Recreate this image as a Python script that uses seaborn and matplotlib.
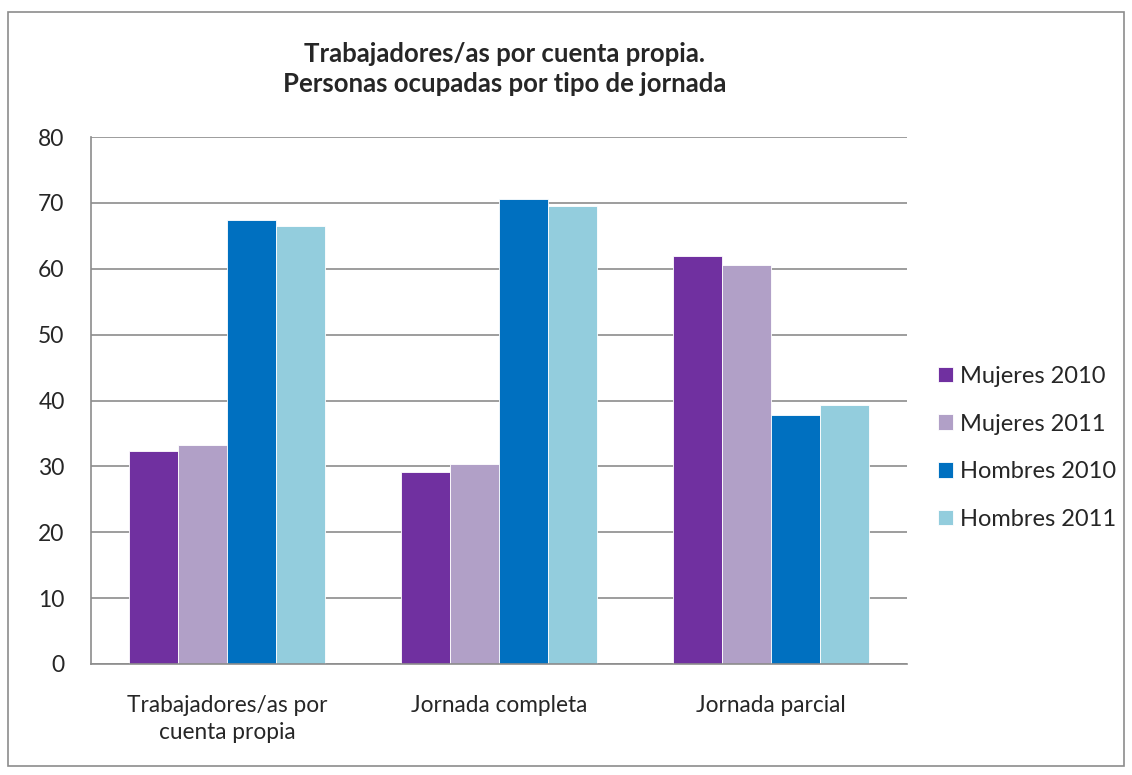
import pandas as pd
import matplotlib.pyplot as plt
import seaborn as sns
from matplotlib.patches import Rectangle

categories = ['Trabajadores/as por\ncuenta propia', 'Jornada completa', 'Jornada parcial']
series = ['Mujeres 2010', 'Mujeres 2011', 'Hombres 2010', 'Hombres 2011']
mujeres_2010 = [32.4, 29.2, 62.0]
mujeres_2011 = [33.3, 30.3, 60.5]
hombres_2010 = [67.4, 70.6, 37.8]
hombres_2011 = [66.5, 69.5, 39.3]
colors = ['#7030A0', '#B1A0C7', '#0070C0', '#93CDDD']

rows = []
for name, vals in zip(series, [mujeres_2010, mujeres_2011, hombres_2010, hombres_2011]):
    for cat, v in zip(categories, vals):
        rows.append({'Categoria': cat, 'Serie': name, 'Valor': v})
df = pd.DataFrame(rows)

sns.set_style('white')
plt.rcParams['font.family'] = ['Lato', 'DejaVu Sans']

fig = plt.figure(figsize=(11.32, 7.75), dpi=100)
ax = fig.add_axes([91 / 1132, 1 - 664 / 775, 816 / 1132, 527 / 775])

sns.barplot(data=df, x='Categoria', y='Valor', hue='Serie', order=categories,
            hue_order=series, palette=colors, width=0.72, saturation=1,
            edgecolor='white', linewidth=0.6, ax=ax)

ax.set_ylim(0, 80)
ax.set_yticks(range(0, 81, 10))
ax.yaxis.grid(True, color='#8c8c8c', linewidth=1.2)
ax.set_axisbelow(True)
ax.set_xlabel('')
ax.set_ylabel('')
for s in ['top', 'right']:
    ax.spines[s].set_visible(False)
for s in ['left', 'bottom']:
    ax.spines[s].set_color('#8c8c8c')
    ax.spines[s].set_linewidth(1.2)
ax.tick_params(axis='y', labelsize=16.5, pad=19, length=0)
ax.tick_params(axis='x', labelsize=16.3, pad=22, length=0)
for lbl in ax.get_xticklabels():
    lbl.set_linespacing(1.35)

ax.legend(loc='center left', bbox_to_anchor=(1.038, 0.41), frameon=False,
          fontsize=17, handlelength=0.64, handleheight=0.64, handletextpad=0.3,
          labelspacing=1.13, borderaxespad=0, borderpad=0)

fig.suptitle('Trabajadores/as por cuenta propia.\nPersonas ocupadas por tipo de jornada',
             fontsize=18.5, fontweight='bold', y=0.946, x=0.446, linespacing=1.3)

fig.patches.append(Rectangle((8 / 1132, 9 / 775), 1116 / 1132, 754 / 775,
                             transform=fig.transFigure, fill=False,
                             edgecolor='#8c8c8c', linewidth=1.2))

fig.savefig('out.png', dpi=100)
